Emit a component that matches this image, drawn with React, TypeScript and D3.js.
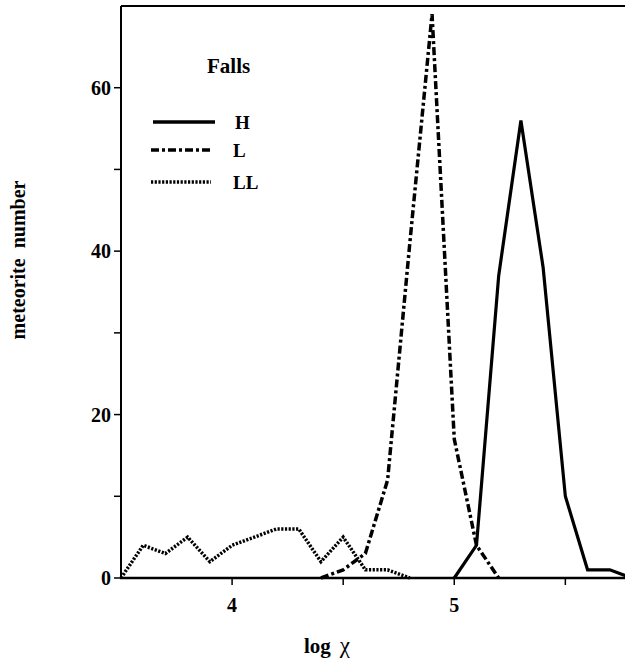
import React from "react";
import * as d3 from "d3";

const hX = [5.0, 5.1, 5.2, 5.3, 5.4, 5.5, 5.6, 5.7, 5.8];
const hY = [0, 4, 37, 56, 38, 10, 1, 1, 0];
const lX = [4.4, 4.5, 4.6, 4.7, 4.8, 4.9, 5.0, 5.1, 5.2];
const lY = [0, 1, 3, 12, 41, 69, 17, 4, 0];
const llX = [3.5, 3.6, 3.7, 3.8, 3.9, 4.0, 4.1, 4.2, 4.3, 4.4, 4.5, 4.6, 4.7, 4.8];
const llY = [0, 4, 3, 5, 2, 4, 5, 6, 6, 2, 5, 1, 1, 0];
const yTicks = [0, 10, 20, 30, 40, 50, 60];
const yLabels = [0, 20, 40, 60];
const xTicks = [4, 4.5, 5, 5.5];
const xLabels = [4, 5];
const legendNames = ["H", "L", "LL"];

const W = 625;
const H = 659;
const FONT = "'Liberation Serif', 'Times New Roman', serif";

export default function App() {
  const x = d3.scaleLinear().domain([3.5, 5.8]).range([121, 632]);
  const y = d3.scaleLinear().domain([0, 70]).range([578, 6]);
  const line = d3
    .line<[number, number]>()
    .x((d) => x(d[0]))
    .y((d) => y(d[1]));
  const zip = (a: number[], b: number[]) => a.map((v, i) => [v, b[i]] as [number, number]);

  const styles = [
    { dash: "none", w: 3.2 },
    { dash: "8,3,3,3", w: 3.5 },
    { dash: "2.2,1.5", w: 3.5 },
  ];
  const series = [zip(hX, hY), zip(lX, lY), zip(llX, llY)];

  const legY = [122, 150, 182];

  return (
    <svg
      width={W}
      height={H}
      style={{ position: "absolute", left: 0, top: 0, background: "#fff" }}
      fontFamily={FONT}
    >
      <rect x={0} y={0} width={W} height={H} fill="#fff" />
      {series.map((s, i) => (
        <path
          key={i}
          d={line(s) || ""}
          fill="none"
          stroke="#000"
          strokeWidth={styles[i].w}
          strokeDasharray={styles[i].dash}
          strokeLinejoin="miter"
        />
      ))}
      {/* axes */}
      <line x1={x(3.5)} x2={W} y1={y(70)} y2={y(70)} stroke="#000" strokeWidth={2} />
      <line x1={x(3.5)} x2={x(3.5)} y1={y(70)} y2={y(0)} stroke="#000" strokeWidth={2} />
      <line x1={x(3.5) - 1} x2={W} y1={y(0)} y2={y(0)} stroke="#000" strokeWidth={2.5} />
      {yTicks.map((t) => (
        <line key={t} x1={x(3.5) - 7} x2={x(3.5)} y1={y(t)} y2={y(t)} stroke="#000" strokeWidth={1.5} />
      ))}
      {yLabels.map((t) => (
        <text
          key={t}
          x={x(3.5) - 10}
          y={y(t)}
          dy="0.35em"
          textAnchor="end"
          fontSize={20}
          fontWeight="bold"
        >
          {t}
        </text>
      ))}
      {xTicks.map((t) => (
        <line key={t} x1={x(t)} x2={x(t)} y1={y(0)} y2={y(0) + 7} stroke="#000" strokeWidth={1.5} />
      ))}
      {xLabels.map((t) => (
        <text key={t} x={x(t)} y={612} textAnchor="middle" fontSize={20} fontWeight="bold">
          {t}
        </text>
      ))}
      <text x={304} y={653} fontSize={21} fontWeight="bold">
        log
        <tspan dx={9} fontWeight="normal" fontSize={23}>
          χ
        </tspan>
      </text>
      <text
        transform="translate(25,260) rotate(-90)"
        textAnchor="middle"
        fontSize={20}
        fontWeight="bold"
        style={{ whiteSpace: "pre" }}
      >
        {"meteorite  number"}
      </text>
      {/* legend */}
      <text x={207} y={73} fontSize={21} fontWeight="bold">
        Falls
      </text>
      {legendNames.map((n, i) => (
        <g key={n}>
          <line
            x1={i === 0 ? 153 : 151}
            x2={i === 0 ? 215 : 211}
            y1={legY[i]}
            y2={legY[i]}
            stroke="#000"
            strokeWidth={styles[i].w + (i === 0 ? 0.5 : 0)}
            strokeDasharray={styles[i].dash}
          />
          <text x={i === 0 ? 235 : 233} y={legY[i] + 7} fontSize={19} fontWeight="bold">
            {n}
          </text>
        </g>
      ))}
    </svg>
  );
}
